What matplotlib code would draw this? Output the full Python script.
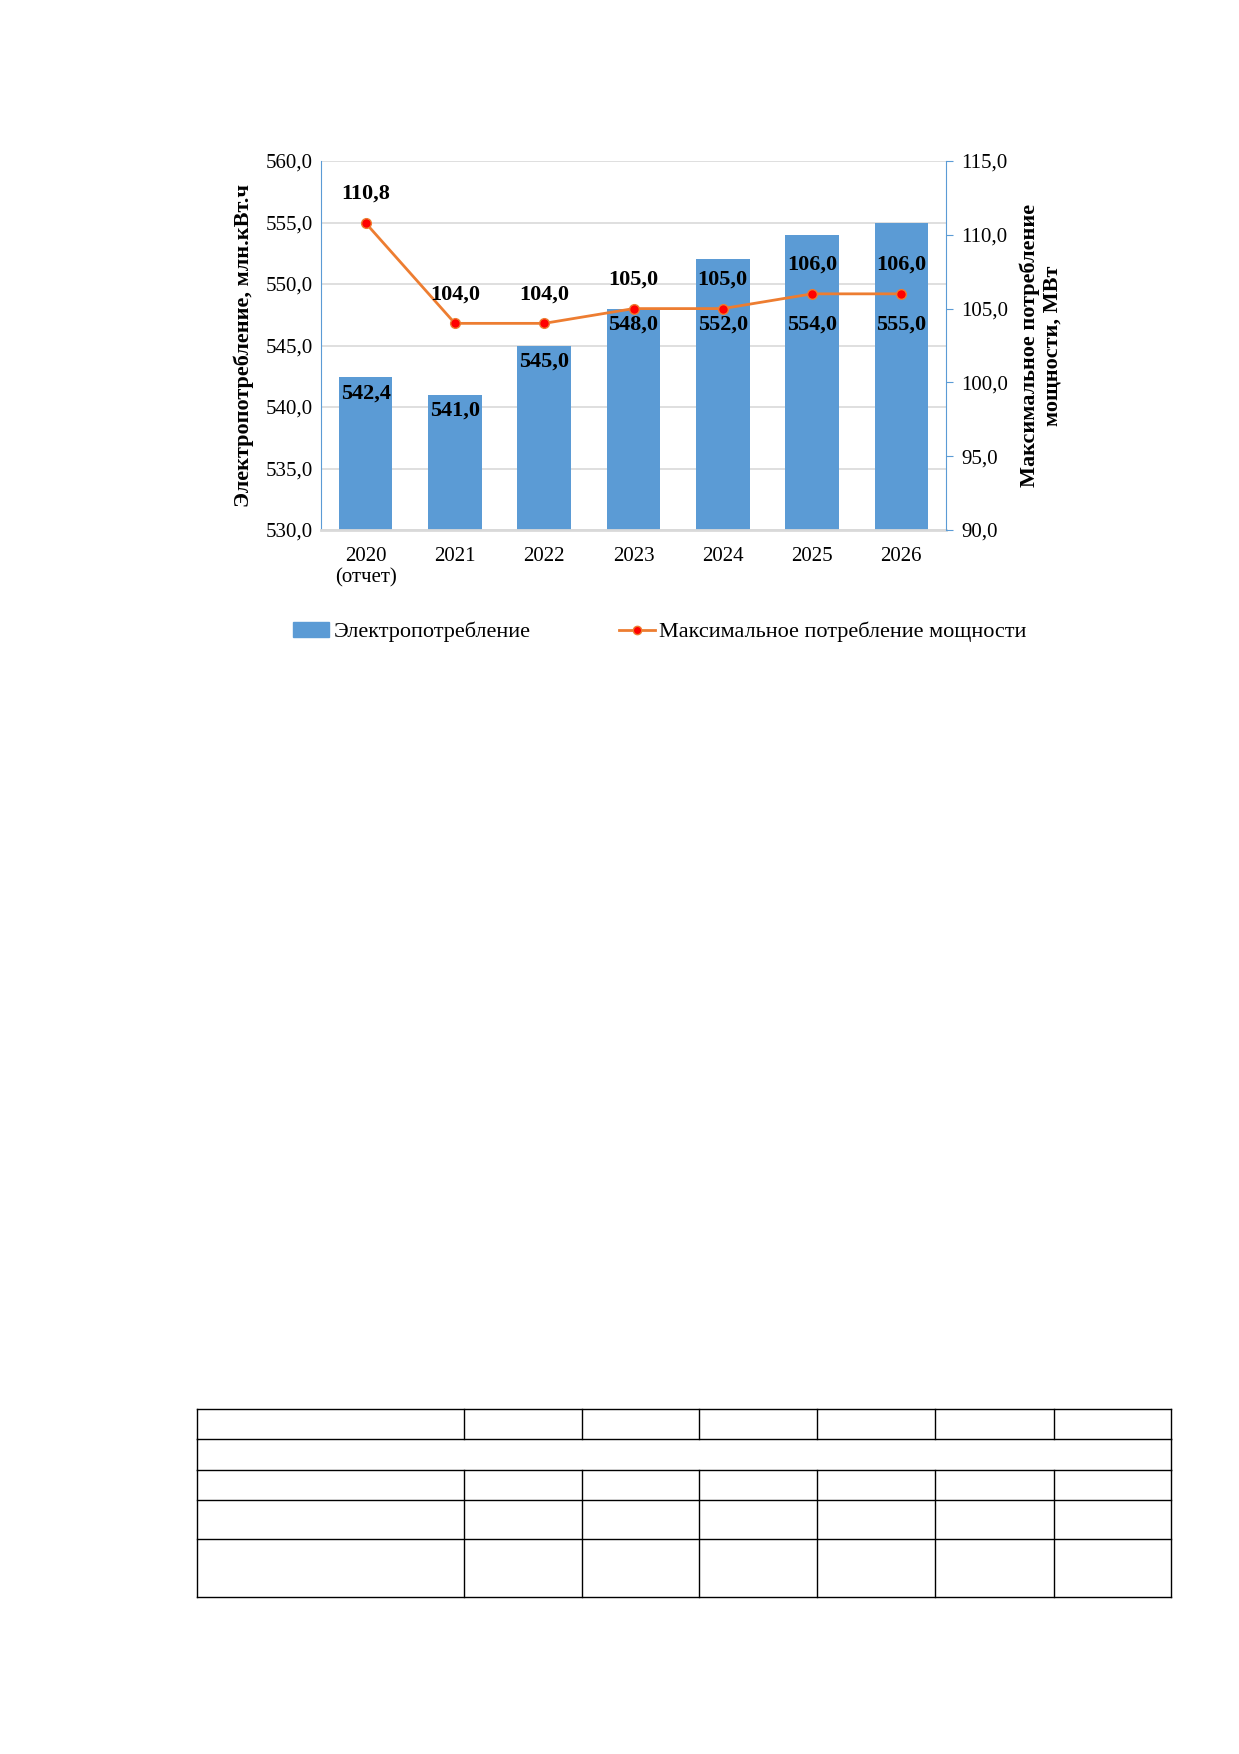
import matplotlib; matplotlib.use("Agg")
import matplotlib.pyplot as plt
from matplotlib.lines import Line2D

years=["2020\n(отчет)","2021","2022","2023","2024","2025","2026"]
energy=[542.4,541.0,545.0,548.0,552.0,554.0,555.0]
power=[110.8,104.0,104.0,105.0,105.0,106.0,106.0]

plt.rcParams['font.family']=['Liberation Serif','DejaVu Serif']
W,H=1239,1754
fig=plt.figure(figsize=(W/100,H/100),dpi=100)
ax=fig.add_axes([321/W,1-530/H,625/W,369/H])
x=range(len(years))
ax.bar(x,energy,0.6,color="#5b9bd5",zorder=2)
ax.set_ylim(530,560); ax.set_yticks(range(530,561,5))
ax.set_yticklabels([f"{v},0" for v in range(530,561,5)],fontsize=15)
ax.set_xlim(-0.5,6.5); ax.set_xticks(list(x)); ax.set_xticklabels(years,fontsize=15)
ax.grid(axis="y",color="#d9d9d9",lw=1.2,zorder=0)
for s in ["top","right"]: ax.spines[s].set_visible(False)
ax.spines["left"].set_color("#5b9bd5"); ax.spines["bottom"].set_color("#d9d9d9"); ax.spines["bottom"].set_linewidth(2)
ax.tick_params(axis="y",length=0,pad=6); ax.tick_params(axis="x",length=0,pad=12)
for i,v in enumerate(energy):
    ax.text(i,min(v,548)-1.3,f"{v:.1f}".replace(".",","),ha="center",va="center",fontsize=16,fontweight="bold",zorder=5)
ax.set_ylabel("Электропотребление, млн.кВт.ч",fontsize=16,fontweight="bold",labelpad=8)
ax2=ax.twinx()
ax2.plot(x,power,color="#ed7d31",lw=2,marker="o",ms=7,mfc="red",mec="#ed7d31",zorder=4)
ax2.set_ylim(90,115); ax2.set_yticks(range(90,116,5))
ax2.set_yticklabels([f"{v},0" for v in range(90,116,5)],fontsize=15)
for s in ["top","left","bottom"]: ax2.spines[s].set_visible(False)
ax2.spines["right"].set_color("#5b9bd5")
ax2.tick_params(axis="y",length=5,color="#5b9bd5",pad=6)
for i,v in enumerate(power):
    ax2.text(i,v+1.3,f"{v:.1f}".replace(".",","),ha="center",va="bottom",fontsize=16,fontweight="bold",zorder=5)
ax2.set_ylabel("Максимальное потребление\nмощности, МВт",fontsize=16,fontweight="bold",labelpad=8)
h=[plt.Rectangle((0,0),1,1,color="#5b9bd5"),Line2D([],[],color="#ed7d31",lw=2,marker="o",mfc="red",mec="#ed7d31")]
fig.legend(h,["Электропотребление","Максимальное потребление мощности"],loc="center",bbox_to_anchor=(660/W,1-632/H),ncol=2,frameon=False,fontsize=16,columnspacing=4,handlelength=1.6,handletextpad=0.2)

# empty table below
cols=[197,464,582,699,817,935,1054,1171]
rows=[1409,1439,1470,1500,1539,1597]
tx=fig.add_axes([0,0,1,1]); tx.set_xlim(0,W); tx.set_ylim(H,0); tx.axis("off")
for r in rows: tx.plot([cols[0],cols[-1]],[r,r],color="black",lw=1)
for c in cols:
    tx.plot([c,c],[rows[0],rows[1]],color="black",lw=1)
    tx.plot([c,c],[rows[2],rows[-1]],color="black",lw=1)
tx.plot([cols[0],cols[0]],[rows[1],rows[2]],color="black",lw=1)
tx.plot([cols[-1],cols[-1]],[rows[1],rows[2]],color="black",lw=1)
fig.savefig("out.png",dpi=100)
